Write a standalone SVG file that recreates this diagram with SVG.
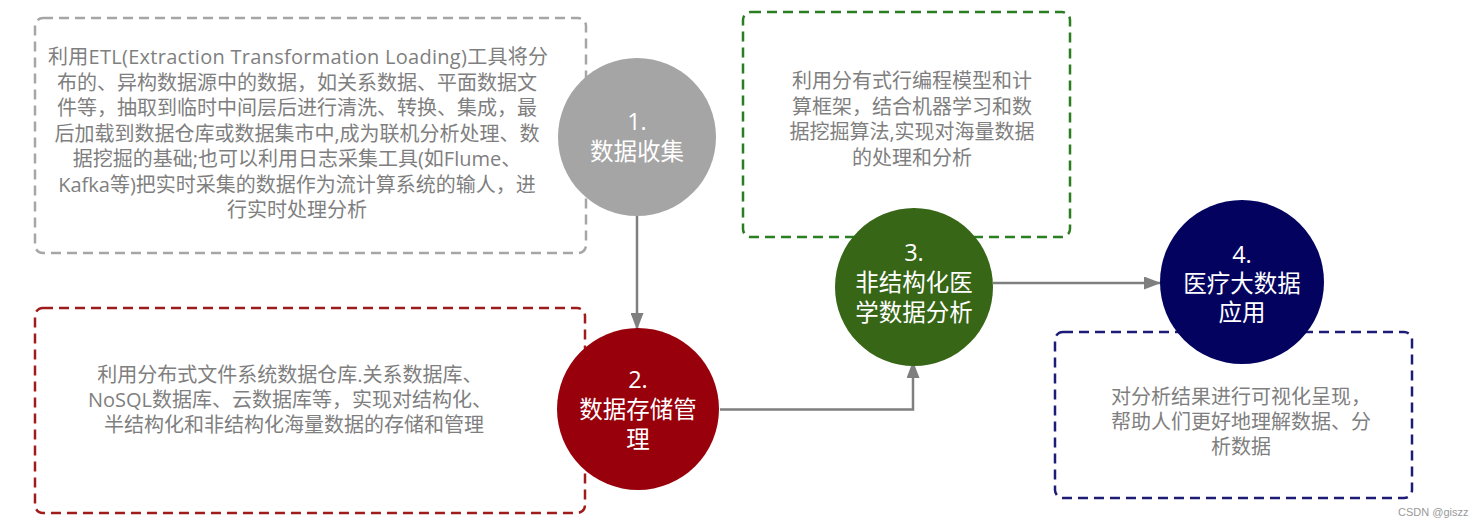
<svg xmlns="http://www.w3.org/2000/svg" width="1478" height="528" viewBox="0 0 1478 528">
<defs>
<style>
.box{fill:none;stroke-width:2.5;stroke-dasharray:10 6}
.desc{font-family:"Open Sans","Noto Sans CJK SC",sans-serif;font-size:20px;fill:#7f7f7f;text-anchor:middle}
.lbl{font-family:"Open Sans","Noto Sans CJK SC",sans-serif;font-size:23.5px;fill:#ffffff;text-anchor:middle}
.conn{fill:none;stroke:#7f7f7f;stroke-width:2.5}
.wm{font-family:"Liberation Sans",sans-serif;font-size:11px;fill:#999999}
</style>
<marker id="arr" viewBox="0 0 17 13" refX="17" refY="6.5" markerWidth="17" markerHeight="13" orient="auto" markerUnits="userSpaceOnUse">
<path d="M0,0 L17,6.5 L0,13 z" fill="#7f7f7f"/>
</marker>
</defs>
<rect width="1478" height="528" fill="#ffffff"/>

<g id="box1">
<rect class="box" x="35" y="18" width="551" height="235" rx="8" stroke="#a6a6a6"/>
<text class="desc" x="298" y="64" textLength="500" lengthAdjust="spacing">利用ETL(Extraction Transformation Loading)工具将分</text>
<text class="desc" x="297" y="89.5">布的、异构数据源中的数据，如关系数据、平面数据文</text>
<text class="desc" x="297" y="115">件等，抽取到临时中间层后进行清洗、转换、集成，最</text>
<text class="desc" x="297" y="140.5">后加载到数据仓库或数据集市中,成为联机分析处理、数</text>
<text class="desc" x="297" y="166">据挖掘的基础;也可以利用日志采集工具(如Flume、</text>
<text class="desc" x="297" y="191.5">Kafka等)把实时采集的数据作为流计算系统的输人，进</text>
<text class="desc" x="297" y="217">行实时处理分析</text>
</g>

<g id="box2">
<rect class="box" x="35" y="308" width="550" height="205" rx="8" stroke="#a01c1c"/>
<text class="desc" x="290" y="382">利用分布式文件系统数据仓库.关系数据库、</text>
<text class="desc" x="290" y="407">NoSQL数据库、云数据库等，实现对结构化、</text>
<text class="desc" x="294" y="432">半结构化和非结构化海量数据的存储和管理</text>
</g>

<g id="box3">
<rect class="box" x="743" y="12" width="327" height="225" rx="8" stroke="#2a7d20"/>
<text class="desc" x="912" y="88">利用分有式行编程模型和计</text>
<text class="desc" x="912" y="113.5">算框架，结合机器学习和数</text>
<text class="desc" x="912" y="139">据挖掘算法,实现对海量数据</text>
<text class="desc" x="912" y="164.5">的处理和分析</text>
</g>

<g id="box4">
<rect class="box" x="1055" y="332" width="357" height="166" rx="8" stroke="#1c1c78"/>
<text class="desc" x="1241" y="404">对分析结果进行可视化呈现，</text>
<text class="desc" x="1241" y="429">帮助人们更好地理解数据、分</text>
<text class="desc" x="1241" y="454">析数据</text>
</g>

<g id="connectors">
<line class="conn" x1="637" y1="214" x2="637" y2="330" marker-end="url(#arr)"/>
<polyline class="conn" points="720,409.5 913,409.5 913,361" marker-end="url(#arr)"/>
<line class="conn" x1="993" y1="283" x2="1161" y2="283" marker-end="url(#arr)"/>
</g>

<g id="node1">
<circle cx="637" cy="137" r="79" fill="#a5a5a5"/>
<text class="lbl" x="637" y="130">1.</text>
<text class="lbl" x="637" y="160">数据收集</text>
</g>

<g id="node2">
<circle cx="638" cy="409" r="81" fill="#98000b"/>
<text class="lbl" x="638" y="388">2.</text>
<text class="lbl" x="638" y="418">数据存储管</text>
<text class="lbl" x="638" y="448">理</text>
</g>

<g id="node3">
<circle cx="914" cy="287" r="79" fill="#376617"/>
<text class="lbl" x="914" y="261">3.</text>
<text class="lbl" x="914" y="291">非结构化医</text>
<text class="lbl" x="914" y="321">学数据分析</text>
</g>

<g id="node4">
<circle cx="1242" cy="282" r="82" fill="#03035f"/>
<text class="lbl" x="1242" y="263">4.</text>
<text class="lbl" x="1242" y="292">医疗大数据</text>
<text class="lbl" x="1242" y="321">应用</text>
</g>

<text class="wm" x="1398" y="516">CSDN @giszz</text>
</svg>
